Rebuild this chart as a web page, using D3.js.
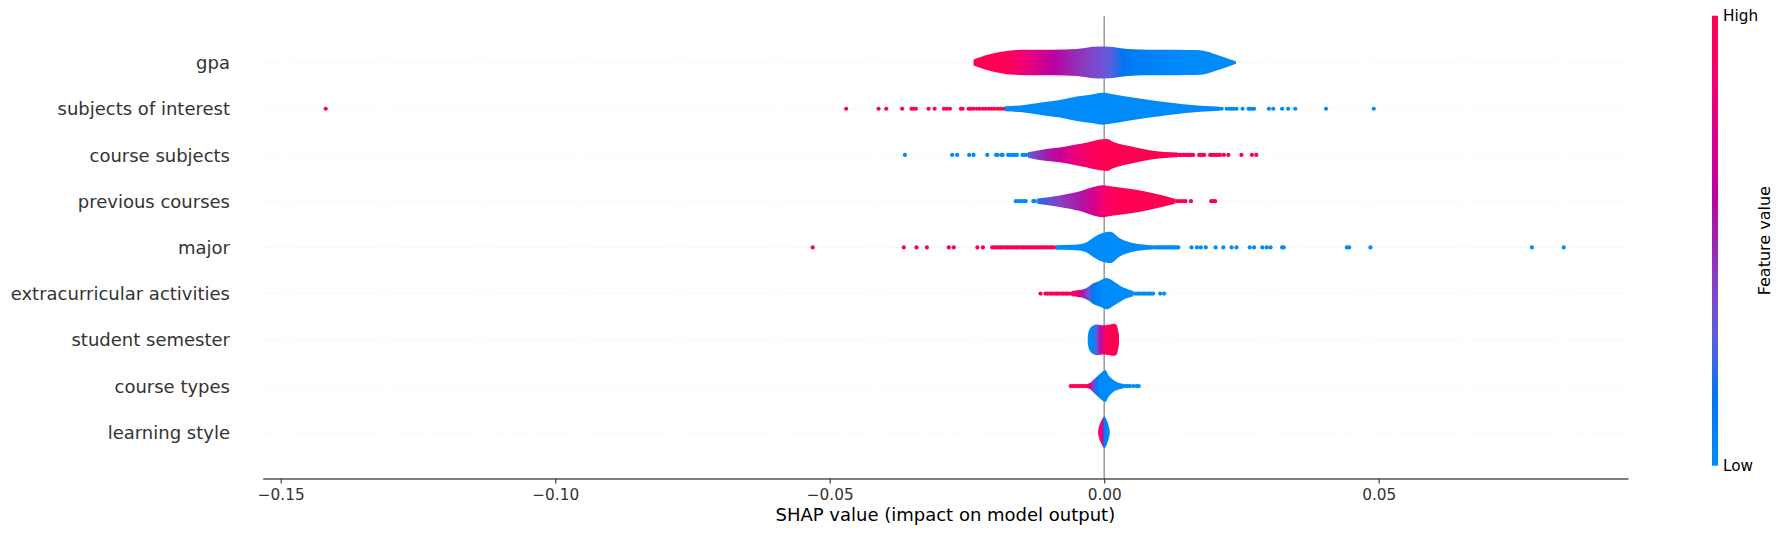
<!DOCTYPE html>
<html>
<head>
<meta charset="utf-8">
<script src="https://cdn.jsdelivr.net/npm/d3@7"></script>
<style>
  html, body { margin: 0; padding: 0; background: #ffffff; }
  svg { display: block; }
  text { font-family: "DejaVu Sans", sans-serif; }
</style>
</head>
<body>
<svg id="chart" width="1785" height="536"></svg>
<script>
// ---------------- DATA ----------------
const features = ["gpa", "subjects of interest", "course subjects", "previous courses", "major",
  "extracurricular activities", "student semester", "course types", "learning style"];
const xTicks = [-0.15, -0.10, -0.05, 0.00, 0.05];
const xLimits = [-0.15328, 0.09541];
const xLabel = "SHAP value (impact on model output)";
const colorLabels = ["Low", "High"];
const colorTitle = "Feature value";

// violin profiles: [SHAP value, relative half-width (1 = max), mean feature value (0 low .. 1 high)]
const violinGpa = [[-0.0238,0.19,1.0],[-0.0217,0.44,1.0],[-0.0190,0.65,0.98],[-0.0165,0.77,0.93],[-0.0135,0.80,0.78],
  [-0.0093,0.80,0.60],[-0.0050,0.84,0.47],[-0.0020,0.98,0.38],[0.0000,1.00,0.32],[0.0016,0.97,0.25],[0.0034,0.88,0.15],
  [0.0052,0.83,0.10],[0.0083,0.80,0.07],[0.0114,0.80,0.03],[0.0154,0.78,0.0],[0.0175,0.76,0.0],[0.0198,0.57,0.0],
  [0.0220,0.32,0.0],[0.0240,0.08,0.0]];
const violinSubjects = [[-0.0181,0.15,0],[-0.0153,0.21,0],[-0.0112,0.40,0],[-0.0081,0.55,0],[-0.0050,0.76,0],
  [-0.0020,0.91,0],[-0.0002,1.00,0],[0.0011,0.94,0],[0.0052,0.70,0],[0.0083,0.55,0],[0.0114,0.40,0],[0.0175,0.19,0],[0.0211,0.13,0]];
const violinCourseSubjects = [[-0.0139,0.17,0.30],[-0.0108,0.36,0.50],[-0.0081,0.46,0.65],[-0.0054,0.63,0.80],
  [-0.0031,0.78,0.90],[-0.0013,0.93,0.97],[0.0005,1.00,1],[0.0016,0.83,1],[0.0052,0.51,1],[0.0089,0.27,1],[0.0133,0.15,1]];
const violinPrevCourses = [[-0.0122,0.16,0.20],[-0.0081,0.36,0.42],[-0.0044,0.62,0.55],[-0.0020,0.89,0.70],
  [-0.0002,1.00,0.85],[0.0011,0.93,0.95],[0.0052,0.74,1],[0.0089,0.49,1],[0.0125,0.19,1],[0.0130,0.15,1]];
const violinMajor = [[-0.0088,0.14,0],[-0.0060,0.16,0],[-0.0045,0.20,0],[-0.0032,0.32,0],[-0.0020,0.60,0],
  [-0.0008,0.83,0],[0.0005,0.96,0],[0.0011,0.98,0],[0.0029,0.55,0],[0.0052,0.27,0],[0.0071,0.18,0],[0.0087,0.13,0]];
const violinExtra = [[-0.0059,0.17,1.0],[-0.0045,0.22,0.75],[-0.0038,0.27,0.50],[-0.0028,0.45,0.30],[-0.0020,0.64,0.12],
  [-0.0008,0.81,0.03],[-0.0002,0.91,0],[0.0005,0.98,0],[0.0011,0.89,0],[0.0020,0.70,0],[0.0035,0.38,0],[0.0053,0.17,0]];
const violinSemester = [[-0.0030,0.17,0],[-0.0029,0.40,0],[-0.0026,0.70,0],[-0.0020,0.89,0.03],[-0.0014,0.96,0.30],
  [-0.0007,0.93,0.55],[-0.0002,0.91,0.78],[0.0005,0.93,1],[0.0011,0.96,1],[0.0017,1.00,1],[0.0023,0.91,1],[0.0025,0.64,1],[0.0027,0.27,1]];
const violinCourseTypes = [[-0.0031,0.13,1.0],[-0.0026,0.19,0.70],[-0.0020,0.38,0.40],[-0.0014,0.57,0.12],
  [-0.0008,0.76,0.02],[0.0000,0.97,0],[0.0002,1.00,0],[0.0008,0.66,0],[0.0014,0.45,0],[0.0020,0.30,0],[0.0035,0.13,0]];
const violinLearning = [[-0.0011,0.12,1],[-0.0009,0.40,1],[-0.0006,0.66,0.9],[-0.0003,0.86,0.55],[0.0000,1.00,0.2],
  [0.0003,0.88,0.05],[0.0006,0.66,0],[0.0008,0.42,0],[0.0010,0.12,0]];

// individual points outside the violins (high feature value = red, low = blue)
const subjectsHigh = [-0.1418,-0.0470,-0.0411,-0.0397,-0.0368,-0.0351,-0.0347,-0.0343,-0.0320,-0.0309,-0.0292,-0.0287,
  -0.0281,-0.0261,-0.0258,-0.0247,-0.0243,-0.0238,-0.0232,-0.0227,-0.0221,-0.0216,-0.0210,-0.0205,-0.0200,-0.0194,-0.0189,-0.0183];
const subjectsLow = [0.0214,0.0223,0.0228,0.0232,0.0236,0.0241,0.0252,0.0263,0.0266,0.0270,0.0273,0.0300,0.0308,
  0.0324,0.0335,0.0348,0.0404,0.0491];
const courseSubjectsLow = [-0.0363,-0.0277,-0.0268,-0.0246,-0.0238,-0.0213,-0.0197,-0.0194,-0.0187,-0.0185,-0.0175,
  -0.0172,-0.0167,-0.0163,-0.0159,-0.0149,-0.0146,-0.0142];
const courseSubjectsHigh = [0.0135,0.0138,0.0141,0.0144,0.0147,0.0150,0.0153,0.0156,0.0159,0.0162,0.0173,0.0176,
  0.0179,0.0182,0.0193,0.0196,0.0200,0.0204,0.0207,0.0211,0.0218,0.0226,0.0250,0.0269,0.0277];
const prevCoursesLow = [-0.0161,-0.0157,-0.0152,-0.0147,-0.0143,-0.0129,-0.0126];
const prevCoursesHigh = [0.0133,0.0138,0.0143,0.0148,0.0158,0.0195,0.0198,0.0202];
const majorHigh = [-0.0531,-0.0365,-0.0342,-0.0323,-0.0283,-0.0274,-0.0231,-0.0221,-0.0204,-0.0200,-0.0197,-0.0193,
  -0.0189,-0.0186,-0.0182,-0.0178,-0.0175,-0.0171,-0.0167,-0.0164,-0.0160,-0.0157,-0.0153,-0.0149,-0.0146,-0.0142,
  -0.0138,-0.0135,-0.0131,-0.0127,-0.0124,-0.0120,-0.0116,-0.0113,-0.0109,-0.0106,-0.0102,-0.0098,-0.0095,-0.0091];
const majorLow = [0.0089,0.0093,0.0096,0.0099,0.0102,0.0105,0.0108,0.0111,0.0114,0.0117,0.0120,0.0123,0.0126,0.0129,
  0.0132,0.0135,0.0159,0.0169,0.0176,0.0185,0.0203,0.0217,0.0232,0.0241,0.0265,0.0273,0.0288,0.0296,0.0303,0.0324,
  0.0327,0.0442,0.0446,0.0485,0.0779,0.0837];
const extraHigh = [-0.0116,-0.0107,-0.0103,-0.0099,-0.0096,-0.0092,-0.0088,-0.0085,-0.0081,-0.0077,-0.0074,-0.0070,
  -0.0067,-0.0063,-0.0059];
const extraLow = [0.0056,0.0060,0.0063,0.0067,0.0071,0.0074,0.0078,0.0082,0.0085,0.0089,0.0102,0.0109];
const courseTypesHigh = [-0.0061,-0.0057,-0.0053,-0.0050,-0.0046,-0.0042,-0.0039,-0.0035,-0.0031];
const courseTypesLow = [0.0036,0.0040,0.0043,0.0047,0.0053,0.0059,0.0063];

// table built from the arrays above (top to bottom)
const rows = [
  { name: features[0], violin: violinGpa, high: [], low: [] },
  { name: features[1], violin: violinSubjects, high: subjectsHigh, low: subjectsLow },
  { name: features[2], violin: violinCourseSubjects, high: courseSubjectsHigh, low: courseSubjectsLow },
  { name: features[3], violin: violinPrevCourses, high: prevCoursesHigh, low: prevCoursesLow },
  { name: features[4], violin: violinMajor, high: majorHigh, low: majorLow },
  { name: features[5], violin: violinExtra, high: extraHigh, low: extraLow },
  { name: features[6], violin: violinSemester, high: [], low: [] },
  { name: features[7], violin: violinCourseTypes, high: courseTypesHigh, low: courseTypesLow },
  { name: features[8], violin: violinLearning, high: [], low: [] }
];

// ---------------- COLOR MAP (SHAP red_blue, LCH interpolation) ----------------
function lch2hex(L, C, Hdeg) {
  const h = Hdeg * Math.PI / 180, a = C * Math.cos(h), b = C * Math.sin(h);
  const fy = (L + 16) / 116, fx = fy + a / 500, fz = fy - b / 200;
  const finv = t => t > 6 / 29 ? t * t * t : 3 * (6 / 29) * (6 / 29) * (t - 4 / 29);
  const X = 0.95047 * finv(fx), Y = finv(fy), Z = 1.08883 * finv(fz);
  const lin = [3.2404542 * X - 1.5371385 * Y - 0.4985314 * Z,
               -0.9692660 * X + 1.8760108 * Y + 0.0415560 * Z,
               0.0556434 * X - 0.2040259 * Y + 1.0572252 * Z];
  const g = v => { v = v <= 0.0031308 ? 12.92 * v : 1.055 * Math.pow(Math.max(v, 0), 1 / 2.4) - 0.055; return Math.round(Math.min(1, Math.max(0, v)) * 255); };
  return d3.rgb(g(lin[0]), g(lin[1]), g(lin[2])).formatHex();
}
function redBlue(t) {
  t = Math.max(0, Math.min(1, t));
  const L = t < 0.5 ? 54 - 28 * t : 40 + 28 * (t - 0.5);
  const C = 70 + 20 * t;
  const H = 266.93 + (380.32 - 266.93) * t;
  return lch2hex(L, C, H % 360);
}

// ---------------- LAYOUT ----------------
const svg = d3.select("#chart");
svg.append("rect").attr("width", 1785).attr("height", 536).attr("fill", "#ffffff");

const x = d3.scaleLinear().domain(xLimits).range([262.7, 1628]);
const y = d3.scaleLinear().domain([-1, features.length]).range([478.5, 16.3]);
const rowPos = i => features.length - 1 - i;
const halfMax = (y(0) - y(1)) / 3 * 1.04;

const defs = svg.append("defs");

// dotted row lines
svg.append("g").selectAll("line").data(rows).join("line")
  .attr("x1", x.range()[0]).attr("x2", x.range()[1])
  .attr("y1", (d, i) => y(rowPos(i))).attr("y2", (d, i) => y(rowPos(i)))
  .attr("stroke", "#cccccc").attr("stroke-width", 0.7).attr("stroke-dasharray", "0.7,3.47");

// zero line
svg.append("line").attr("x1", x(0)).attr("x2", x(0)).attr("y1", y(-1)).attr("y2", y(features.length))
  .attr("stroke", "#999999").attr("stroke-width", 1.5);

// dots
const dotG = svg.append("g");
rows.forEach((r, i) => {
  const pts = r.high.map(v => [v, 1]).concat(r.low.map(v => [v, 0]));
  dotG.selectAll(null).data(pts).join("circle")
    .attr("cx", d => x(d[0])).attr("cy", y(rowPos(i))).attr("r", 2.1)
    .attr("fill", d => redBlue(d[1]));
});

// violins
const violinG = svg.append("g");
rows.forEach((r, i) => {
  const yc = y(rowPos(i));
  const x1 = x(r.violin[0][0]), x2 = x(r.violin[r.violin.length - 1][0]);
  const grad = defs.append("linearGradient").attr("id", "vg" + i)
    .attr("gradientUnits", "userSpaceOnUse").attr("x1", x1).attr("x2", x2).attr("y1", 0).attr("y2", 0);
  r.violin.forEach(p => {
    grad.append("stop").attr("offset", (x(p[0]) - x1) / (x2 - x1)).attr("stop-color", redBlue(p[2]));
  });
  const area = d3.area().x(d => x(d[0])).y0(d => yc - d[1] * halfMax).y1(d => yc + d[1] * halfMax)
    .curve(d3.curveMonotoneX);
  violinG.append("path").datum(r.violin).attr("d", area).attr("fill", "url(#vg" + i + ")");
});

// y labels
svg.append("g").selectAll("text").data(rows).join("text")
  .attr("x", 230).attr("y", (d, i) => y(rowPos(i)) + 6.6)
  .attr("text-anchor", "end").attr("font-size", "18px").attr("fill", "#333333")
  .text(d => d.name);

// x axis
const axis = d3.axisBottom(x).tickValues(xTicks).tickFormat(d3.format(".2f")).tickSize(4.9).tickSizeOuter(0).tickPadding(4.9);
const ax = svg.append("g").attr("transform", `translate(0,${y(-1)})`).call(axis);
ax.select(".domain").attr("stroke", "#000000").attr("stroke-width", 1.1);
ax.selectAll(".tick line").attr("stroke", "#333333").attr("stroke-width", 1.1);
ax.selectAll(".tick text").attr("fill", "#333333").attr("font-size", "15.3px")
  .attr("font-family", "DejaVu Sans").attr("dy", null).attr("y", 21.5);

svg.append("text").attr("x", (x.range()[0] + x.range()[1]) / 2).attr("y", 520.5)
  .attr("text-anchor", "middle").attr("font-size", "18px").attr("fill", "#000000").text(xLabel);

// colorbar
const cbTop = 15.7, cbBottom = 465.7, cbX = 1712, cbW = 6;
const cbGrad = defs.append("linearGradient").attr("id", "cbgrad").attr("x1", 0).attr("x2", 0).attr("y1", 1).attr("y2", 0);
d3.range(0, 1.0001, 0.05).forEach(t => cbGrad.append("stop").attr("offset", t).attr("stop-color", redBlue(t)));
svg.append("rect").attr("x", cbX).attr("y", cbTop).attr("width", cbW).attr("height", cbBottom - cbTop).attr("fill", "url(#cbgrad)");
const cScale = d3.scaleLinear().domain([0, 1]).range([cbBottom, cbTop]);
svg.append("g").selectAll("text").data(colorLabels).join("text")
  .attr("x", cbX + cbW + 5).attr("y", (d, i) => cScale(i)).attr("dy", "0.35em")
  .attr("font-size", "15.3px").attr("fill", "#000000").text(d => d);
svg.append("text").attr("transform", `translate(1770,${(cbTop + cbBottom) / 2}) rotate(-90)`)
  .attr("text-anchor", "middle").attr("font-size", "16px").attr("fill", "#000000").text(colorTitle);
</script>
</body>
</html>
